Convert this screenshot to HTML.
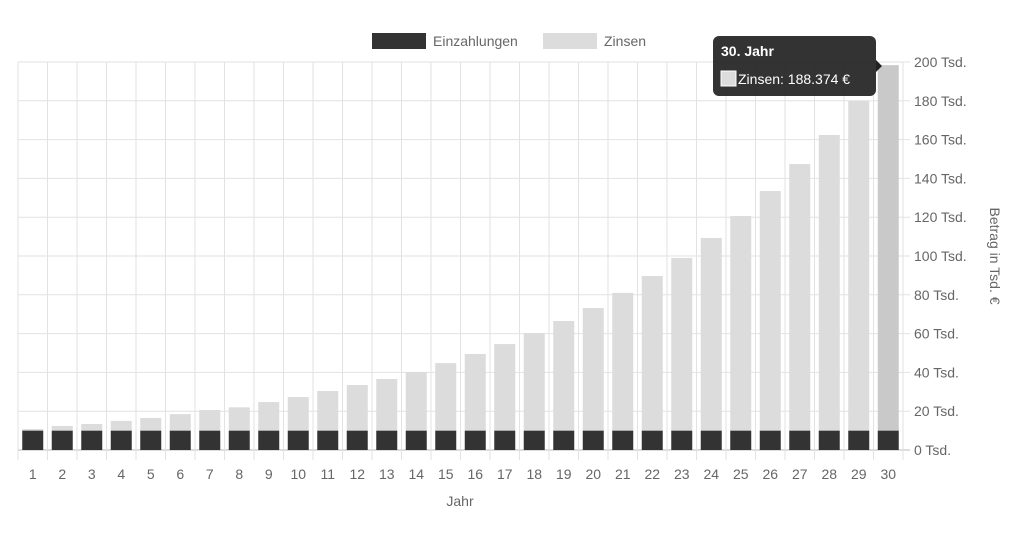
<!DOCTYPE html>
<html><head><meta charset="utf-8"><style>
body{margin:0;background:#fff;font-family:"Liberation Sans",sans-serif}
</style></head><body>
<svg id="c" width="1024" height="536" xmlns="http://www.w3.org/2000/svg" style="font-family:'Liberation Sans',sans-serif"></svg>
<script>
const categories=[1,2,3,4,5,6,7,8,9,10,11,12,13,14,15,16,17,18,19,20,21,22,23,24,25,26,27,28,29,30];
const einzahlungen=[10,10,10,10,10,10,10,10,10,10,10,10,10,10,10,10,10,10,10,10,10,10,10,10,10,10,10,10,10,10];
const zinsen=[0.8,2.4,3.4,5,6.5,8.5,10.6,12,14.7,17.3,20.4,23.5,26.6,30.2,34.8,39.5,44.6,50.3,56.5,63.2,71,79.7,89,99.3,110.6,123.5,137.4,152.4,169.9,188.374];
const yTicks=[0,20,40,60,80,100,120,140,160,180,200];
const yTickLabels=["0 Tsd.","20 Tsd.","40 Tsd.","60 Tsd.","80 Tsd.","100 Tsd.","120 Tsd.","140 Tsd.","160 Tsd.","180 Tsd.","200 Tsd."];
const NS="http://www.w3.org/2000/svg",svg=document.getElementById('c');
const L=18,R=903,T=62,B=450,bw=(R-L)/categories.length;
const y=v=>B-(v/200)*(B-T), x=i=>L+i*bw;
function mk(t,a,p){const e=document.createElementNS(NS,t);for(const k in a)e.setAttribute(k,a[k]);(p||svg).appendChild(e);return e;}
// grid
yTicks.forEach((v,i)=>{
 const g=mk('line',{x1:L,x2:R+7,y1:y(v),y2:y(v),stroke:v===0?'#bbb':'#e2e2e2'});
 
 
 const t=mk('text',{x:914,y:y(v)+5,'font-size':14,fill:'#666'});t.textContent=yTickLabels[i];
 
 
});
for(let i=0;i<=categories.length;i++){
 const g=mk('line',{x1:x(i),x2:x(i),y1:T,y2:B+10,stroke:'#e2e2e2'});
 
 
}
categories.forEach((c,i)=>{
 const cx=x(i)+bw/2,w=21;
 const d=mk('rect',{x:cx-w/2,y:y(einzahlungen[i]),width:w,height:B-y(einzahlungen[i]),fill:'#333'});
 
 
 const top=einzahlungen[i]+zinsen[i];
 const z=mk('rect',{x:cx-w/2,y:y(top),width:w,height:y(einzahlungen[i])-y(top),fill:i===29?'#c9c9c9':'#dcdcdc'});
 
 
 const t=mk('text',{x:cx,y:479,'font-size':14,fill:'#666','text-anchor':'middle'});t.textContent=c;
 
 
});
</script>
<svg width="1024" height="536" style="position:absolute;left:0;top:0" xmlns="http://www.w3.org/2000/svg" font-family="Liberation Sans, sans-serif">
<g>
<g><rect x="372" y="33" width="54" height="16" fill="#333"/><text x="433" y="46" font-size="14" fill="#666">Einzahlungen</text></g>
<g><rect x="543" y="33" width="54" height="16" fill="#dcdcdc"/><text x="604" y="46" font-size="14" fill="#666">Zinsen</text></g>
</g>
<text x="460" y="506" font-size="14" fill="#666" text-anchor="middle">Jahr</text>
<text transform="translate(990,256) rotate(90)" font-size="14" fill="#666" text-anchor="middle">Betrag in Tsd. €</text>
<g>
<rect x="713" y="36" width="163" height="60" rx="6" fill="#222" opacity="0.92"/>
<polygon points="876,60 882,66 876,72" fill="#222"/>
<text x="721" y="56" font-size="14" font-weight="bold" fill="#fff">30. Jahr</text>
<rect x="721" y="71" width="15" height="15" fill="#dcdcdc" stroke="#fff" stroke-width="1"/>
<text x="738" y="84" font-size="14" fill="#fff">Zinsen: 188.374 €</text>
</g>
</svg>
</body></html>
